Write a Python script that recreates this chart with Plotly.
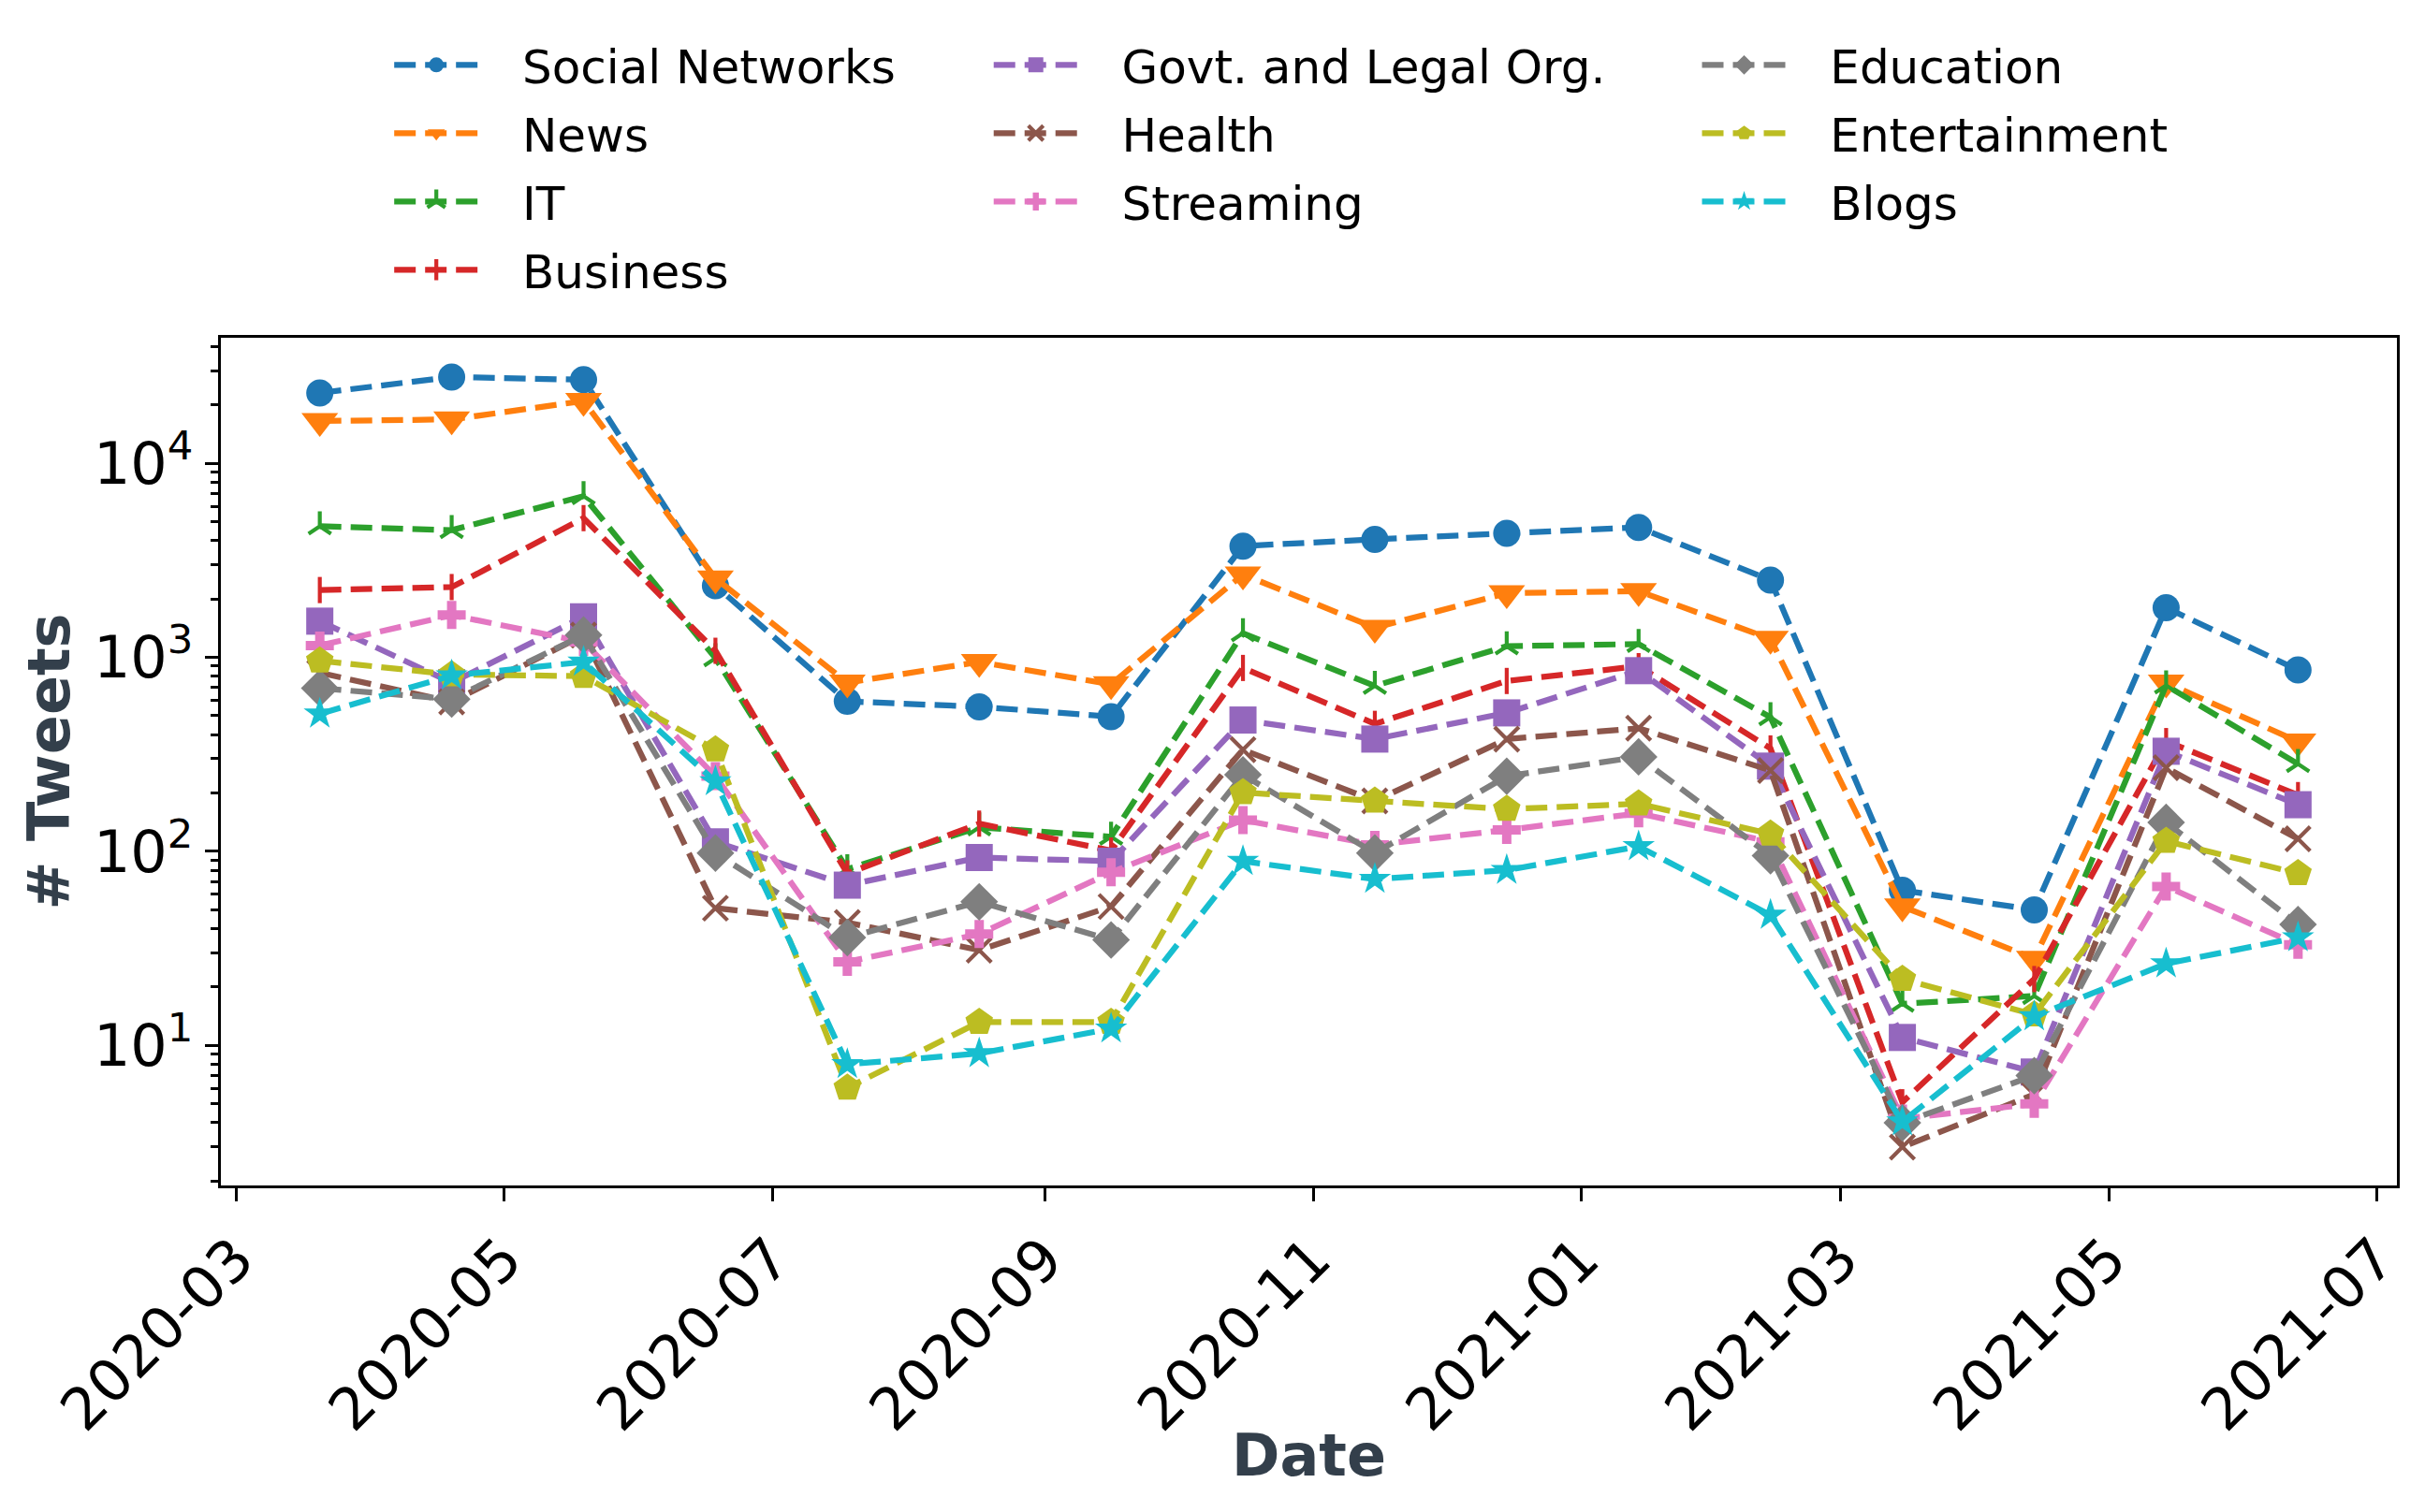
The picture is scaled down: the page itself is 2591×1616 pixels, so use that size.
import plotly.graph_objects as go

# sample dates (30-day buckets)
dates = ["2020-03-20", "2020-04-19", "2020-05-19", "2020-06-18", "2020-07-18", "2020-08-17",
         "2020-09-16", "2020-10-16", "2020-11-15", "2020-12-15", "2021-01-14", "2021-02-13",
         "2021-03-15", "2021-04-14", "2021-05-14", "2021-06-13"]

social_networks = [23000, 27800, 26900, 2340, 593, 556, 494, 3740, 4050, 4350, 4670, 2500, 63, 50, 1800, 860]
news = [16500, 16800, 20900, 2550, 740, 946, 726, 2670, 1420, 2140, 2190, 1245, 52, 28, 740, 368]
it = [4730, 4520, 6760, 990, 81, 133, 119, 1330, 712, 1140, 1170, 491, 16.4, 18, 716, 282]
business = [2220, 2300, 5210, 1080, 77, 139, 101, 881, 454, 755, 900, 339, 5.1, 22, 370, 195]
govt = [1535, 740, 1616, 112, 67, 93, 89, 475, 379, 517, 853, 275, 11, 7.3, 328, 174]
health = [832, 589, 1300, 51, 43, 31, 52, 334, 182, 379, 431, 261, 3.0, 5.6, 270, 116]
streaming = [1150, 1650, 1200, 244, 27, 37.5, 78, 145, 108, 129, 157, 112, 4.2, 5.0, 66, 33]
education = [693, 609, 1302, 98, 36, 55, 35, 248, 98, 244, 307, 95, 4.0, 7.0, 141, 42]
entertainment = [960, 815, 800, 334, 6.05, 13.2, 13.2, 201, 182, 165, 176, 123, 22, 14.4, 113, 77]
blogs = [511, 805, 946, 229, 8.0, 9.1, 12.2, 89, 72, 80, 106, 47, 4.05, 14.1, 26.4, 36]

series = [
    ("Social Networks", social_networks, "#1f77b4", "circle", 29, "legend"),
    ("News", news, "#ff7f0e", "triangle-down", 34, "legend"),
    ("IT", it, "#2ca02c", "y-up", 20, "legend"),
    ("Business", business, "#d62728", "line-ns", 20, "legend"),
    ("Govt. and Legal Org.", govt, "#9467bd", "square", 29, "legend2"),
    ("Health", health, "#8c564b", "x-thin", 26, "legend2"),
    ("Streaming", streaming, "#e377c2", "cross", 25, "legend2"),
    ("Education", education, "#7f7f7f", "diamond", 31, "legend3"),
    ("Entertainment", entertainment, "#bcbd22", "pentagon", 31, "legend3"),
    ("Blogs", blogs, "#17becf", "star", 26, "legend3"),
]

line_markers = {"y-up", "line-ns", "x-thin"}
gap = "\u00a0\u00a0\u2009"  # space between legend handle and label

fig = go.Figure()
for name, vals, color, symbol, size, leg in series:
    thin = symbol in line_markers
    fig.add_trace(go.Scatter(
        x=dates, y=vals, name=gap + name, mode="lines+markers",
        legendgroup=name,
        line=dict(color=color, width=6.25, dash="23px,10px"),
        marker=dict(symbol=symbol, size=size, color=color,
                    line=dict(color=color, width=4.2 if thin else 0)),
        legend=leg,
    ))

axis_font = dict(family="DejaVu Sans", size=62, color="black")
title_font = dict(family="DejaVu Sans", size=62, color="#333F4B", weight="bold")

minor_vals = [m * 10 ** k for k in range(0, 5) for m in range(2, 10) if m * 10 ** k < 45000]

fig.update_xaxes(
    type="date", range=["2020-02-26 12:00", "2021-07-05 12:00"],
    tick0="2020-03-01", dtick="M2", tickformat="%Y-%m", tickangle=-45,
    ticks="outside", ticklen=14, tickwidth=3.3, tickcolor="black",
    showline=True, linecolor="black", linewidth=3.3, mirror=True,
    showgrid=False, zeroline=False, tickfont=axis_font,
)
fig.update_yaxes(
    type="log", range=[0.279, 4.646],
    tickmode="array", tickvals=[10, 100, 1000, 10000],
    ticktext=["10<sup>1</sup>", "10<sup>2</sup>", "10<sup>3</sup>", "10<sup>4</sup>"],
    ticks="outside", ticklen=14, tickwidth=3.3, tickcolor="black",
    minor=dict(tickmode="array", tickvals=minor_vals, ticks="outside", ticklen=8,
               tickwidth=2.6, tickcolor="black", showgrid=False),
    showline=True, linecolor="black", linewidth=3.3, mirror=True,
    showgrid=False, zeroline=False, tickfont=axis_font,
    title=dict(text="# Tweets", font=title_font, standoff=6),
)

# x title as annotation so it can sit closer to the rotated tick labels
fig.add_annotation(text="Date", xref="paper", yref="paper", x=0.5, y=-0.318,
                   xanchor="center", yanchor="middle", showarrow=False, font=title_font)

leg_common = dict(xanchor="left", yanchor="top", y=1.365, orientation="v",
                  bgcolor="rgba(0,0,0,0)", font=dict(family="DejaVu Sans", size=50, color="black"),
                  itemwidth=90, tracegroupgap=5)
fig.update_layout(
    width=2591, height=1616,
    margin=dict(l=228, r=38, t=353, b=357),
    paper_bgcolor="white", plot_bgcolor="white",
    font=dict(family="DejaVu Sans"),
    showlegend=True,
    legend=dict(x=0.0775, **leg_common),
    legend2=dict(x=0.353, **leg_common),
    legend3=dict(x=0.6785, **leg_common),
)

fig.write_html("out.html")
